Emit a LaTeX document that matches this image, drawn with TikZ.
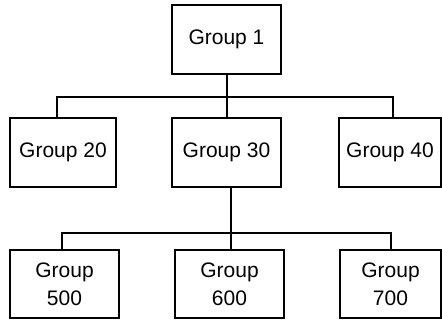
\documentclass[tikz,border=0pt]{standalone}
\usepackage{fontspec}
\setmainfont{Liberation Sans}
\usetikzlibrary{positioning}

\begin{document}
\begin{tikzpicture}[x=1pt,y=-1pt,line width=1.4pt,
    group node/.style={draw,rectangle,inner sep=0pt,minimum height=69pt,font=\fontsize{21}{28}\selectfont},
    leaf node/.style={group node,minimum height=68pt,align=center}]
\useasboundingbox (0,0) rectangle (442,320);

\node[group node,minimum width=109pt] (g1)   at (226.5,39.5)  {Group 1};

\node[group node,minimum width=106pt] (g20)  at (63,152.5)    {Group 20};
\node[group node,minimum width=109pt] (g30)  at (226.5,152.5) {Group 30};
\node[group node,minimum width=102pt] (g40)  at (390,152.5)   {Group 40};

\node[leaf node,minimum width=109pt]  (g500) at (64.5,284)    {Group\\500};
\node[leaf node,minimum width=109pt]  (g600) at (229.5,284)   {Group\\600};
\node[leaf node,minimum width=101pt]  (g700) at (390.5,284)   {Group\\700};

\coordinate (bus1) at (227,97);
\coordinate (bus2) at (231,233);

\draw ([xshift=0.5pt]g1.south) -- (bus1);
\draw ([xshift=-6pt]g20.north) |- (bus1) -| ([xshift=3pt]g40.north);
\draw (bus1) -- ([xshift=0.5pt]g30.north);

\draw ([xshift=4.5pt]g30.south) -- (bus2);
\draw ([xshift=-2.5pt]g500.north) |- (bus2) -| ([xshift=0.5pt]g700.north);
\draw (bus2) -- ([xshift=1.5pt]g600.north);
\end{tikzpicture}
\end{document}
